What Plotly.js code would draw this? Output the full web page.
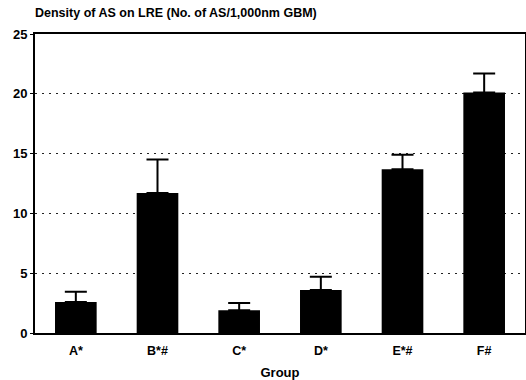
<!DOCTYPE html>
<html>
<head>
<meta charset="utf-8">
<script src="https://cdn.plot.ly/plotly-3.0.1.min.js"></script>
<style>html,body{margin:0;padding:0;background:#fff;}#chart{width:526px;height:380px;}</style>
</head>
<body>
<div id="chart"></div>
<script>
var groups = ["A*", "B*#", "C*", "D*", "E*#", "F#"];
var density = [2.6, 11.7, 1.9, 3.6, 13.7, 20.1];
var errorUp = [0.85, 2.8, 0.6, 1.1, 1.2, 1.6];
var yTicks = [0, 5, 10, 15, 20, 25];

var font = "Liberation Sans, Arial, sans-serif";
var trace = {
  type: "bar",
  x: groups,
  y: density,
  marker: {color: "#000", line: {width: 0}},
  error_y: {type: "data", symmetric: false, array: errorUp, arrayminus: density.map(function(){return 0;}), color: "#000", thickness: 2, width: 11},
  hoverinfo: "none"
};
var layout = {
  width: 526, height: 380,
  margin: {l: 35, r: 1, t: 34, b: 47},
  paper_bgcolor: "#fff", plot_bgcolor: "#fff",
  showlegend: false,
  bargap: 0.49,
  font: {family: font, color: "#000", size: 13, weight: "bold"},
  title: {text: "Density of AS on LRE (No. of AS/1,000nm GBM)", font: {family: font, size: 12.5, color: "#000", weight: "bold"}, x: 0, xref: "paper", xanchor: "left", y: 0.968, yref: "container", yanchor: "middle"},
  xaxis: {
    type: "category", range: [-0.5, 5.5],
    showline: true, linecolor: "#000", linewidth: 2, mirror: true,
    ticks: "", showgrid: false, zeroline: false,
    ticklabelstandoff: 5,
    tickfont: {family: font, size: 12.5, color: "#000", weight: "bold"},
    title: {text: "Group", font: {family: font, size: 13, color: "#000", weight: "bold"}, standoff: 17}
  },
  yaxis: {
    range: [0, 25], tickvals: yTicks, ticktext: yTicks.map(String),
    showline: true, linecolor: "#000", linewidth: 2, mirror: true,
    ticks: "outside", ticklen: 3, tickcolor: "#000",
    showgrid: true, gridcolor: "#222", griddash: "2px,5px", gridwidth: 1,
    zeroline: false,
    tickfont: {family: font, size: 13, color: "#000", weight: "bold"}
  }
};
Plotly.newPlot("chart", [trace], layout, {staticPlot: true, displayModeBar: false});
</script>
</body>
</html>
